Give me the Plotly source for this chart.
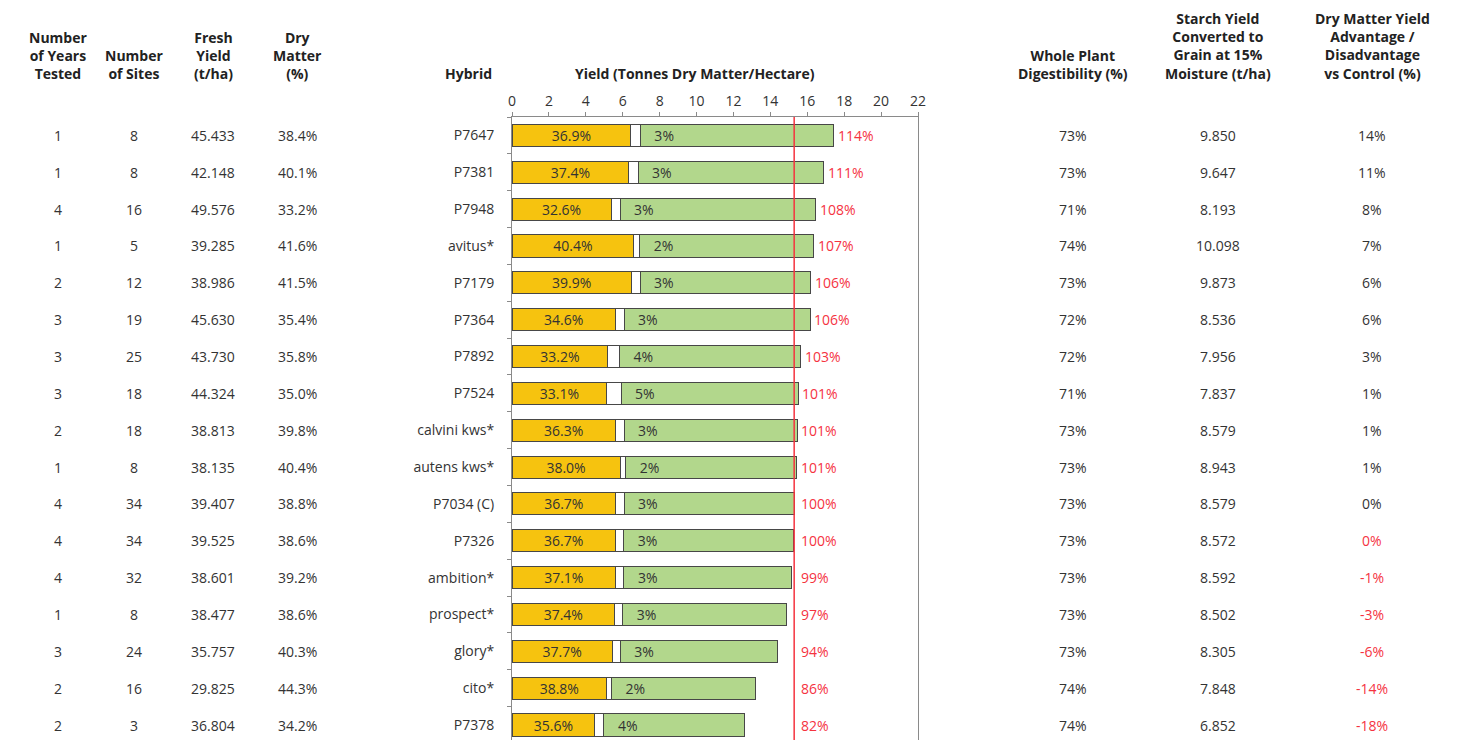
import plotly.graph_objects as go

# ---------------- data ----------------
hybrids = ["P7647", "P7381", "P7948", "avitus*", "P7179", "P7364", "P7892", "P7524",
           "calvini kws*", "autens kws*", "P7034 (C)", "P7326", "ambition*", "prospect*",
           "glory*", "cito*", "P7378"]
years_tested = [1, 1, 4, 1, 2, 3, 3, 3, 2, 1, 4, 4, 4, 1, 3, 2, 2]
num_sites = [8, 8, 16, 5, 12, 19, 25, 18, 18, 8, 34, 34, 32, 8, 24, 16, 3]
fresh_yield = [45.433, 42.148, 49.576, 39.285, 38.986, 45.630, 43.730, 44.324, 38.813,
               38.135, 39.407, 39.525, 38.601, 38.477, 35.757, 29.825, 36.804]
dry_matter_pct = [38.4, 40.1, 33.2, 41.6, 41.5, 35.4, 35.8, 35.0, 39.8, 40.4, 38.8,
                  38.6, 39.2, 38.6, 40.3, 44.3, 34.2]
starch_pct = [36.9, 37.4, 32.6, 40.4, 39.9, 34.6, 33.2, 33.1, 36.3, 38.0, 36.7, 36.7,
              37.1, 37.4, 37.7, 38.8, 35.6]
sugar_pct = [3, 3, 3, 2, 3, 3, 4, 5, 3, 2, 3, 3, 3, 3, 3, 2, 4]
relative_yield = [114, 111, 108, 107, 106, 106, 103, 101, 101, 101, 100, 100, 99, 97, 94, 86, 82]
digestibility = [73, 73, 71, 74, 73, 72, 72, 71, 73, 73, 73, 73, 73, 73, 73, 74, 74]
starch_grain = ["9.850", "9.647", "8.193", "10.098", "9.873", "8.536", "7.956", "7.837",
                "8.579", "8.943", "8.579", "8.572", "8.592", "8.502", "8.305", "7.848", "6.852"]
advantage = ["14%", "11%", "8%", "7%", "6%", "6%", "3%", "1%", "1%", "1%", "0%", "0%",
             "-1%", "-3%", "-6%", "-14%", "-18%"]
below_control = [False] * 11 + [True] * 6
control = "P7034 (C)"

# ---------------- derived ----------------
total_dm = [f * d / 100 for f, d in zip(fresh_yield, dry_matter_pct)]
starch_part = [t * s / 100 for t, s in zip(total_dm, starch_pct)]
sugar_part = [t * s / 100 for t, s in zip(total_dm, sugar_pct)]
rest_part = [t - a - b for t, a, b in zip(total_dm, starch_part, sugar_part)]
control_total = total_dm[hybrids.index(control)]

YELLOW = "#F6C30F"
GREEN = "#B2D78C"
RED = "#F5333F"
EDGE = "#474747"
TXT = "#333333"
FONT = "Open Sans"
FS = 14

OFF = 8                      # page body margin
W, H = 1458 - 2 * OFF, 740 - OFF
L = 512 - OFF                # plot left edge (figure px)
RIGHT = 918 - OFF            # plot right edge
T = 117 - OFF
B = 0
R = W - RIGHT
PW = RIGHT - L
PH = H - T - B
BAND = 36.85                 # px per row
y_bottom = -0.5 + PH / BAND


def px_x(p):                 # viewport px -> paper x
    return (p - OFF - L) / PW


def px_y(p):                 # viewport px -> paper y
    return (H - B - (p - OFF)) / PH


fig = go.Figure()
fig.add_bar(y=hybrids, x=starch_part, orientation="h",
            marker=dict(color=YELLOW, line=dict(color=EDGE, width=1)),
            text=[f"{s:.1f}%" for s in starch_pct], textposition="inside",
            insidetextanchor="middle", textfont=dict(size=FS, color=TXT, family=FONT),
            constraintext="none", hoverinfo="skip")
fig.add_bar(y=hybrids, x=sugar_part, orientation="h",
            marker=dict(color="white", line=dict(color=EDGE, width=1)), hoverinfo="skip")
fig.add_bar(y=hybrids, x=rest_part, orientation="h",
            marker=dict(color=GREEN, line=dict(color=EDGE, width=1)),
            text=[f"\u00a0\u00a0\u00a0{s}%" for s in sugar_pct], textposition="inside",
            insidetextanchor="start", textfont=dict(size=FS, color=TXT, family=FONT),
            constraintext="none", hoverinfo="skip")

fig.add_shape(type="line", x0=control_total, x1=control_total, xref="x",
              y0=0, y1=1, yref="paper", line=dict(color=RED, width=1.5), layer="above")

ann = []
for h, t, r in zip(hybrids, total_dm, relative_yield):
    ann.append(dict(x=max(t, control_total + 0.15), y=h, xref="x", yref="y",
                    text=f"{r}%", showarrow=False, xanchor="left", xshift=2,
                    font=dict(size=FS, color=RED, family=FONT)))

cols = [
    (58, [str(v) for v in years_tested]),
    (134, [str(v) for v in num_sites]),
    (213, [f"{v:.3f}" for v in fresh_yield]),
    (297, [f"{v:.1f}%" for v in dry_matter_pct]),
    (1073, [f"{v}%" for v in digestibility]),
    (1218, starch_grain),
]
for cx, vals in cols:
    for h, v in zip(hybrids, vals):
        ann.append(dict(x=px_x(cx), y=h, xref="paper", yref="y", text=v,
                        showarrow=False, xanchor="center",
                        font=dict(size=FS, color=TXT, family=FONT)))
for h, v, neg in zip(hybrids, advantage, below_control):
    ann.append(dict(x=px_x(1372), y=h, xref="paper", yref="y", text=v,
                    showarrow=False, xanchor="center",
                    font=dict(size=FS, color=RED if neg else TXT, family=FONT)))

headers = [
    (58, "center", "Number<br>of Years<br>Tested"),
    (134, "center", "Number<br>of Sites"),
    (213, "center", "Fresh<br>Yield<br>(t/ha)"),
    (297, "center", "Dry<br>Matter<br>(%)"),
    (494, "right", "Hybrid"),
    (695, "center", "Yield (Tonnes Dry Matter/Hectare)"),
    (1073, "center", "Whole Plant<br>Digestibility (%)"),
    (1218, "center", "Starch Yield<br>Converted to<br>Grain at 15%<br>Moisture (t/ha)"),
    (1372, "center", "Dry Matter Yield<br>Advantage /<br>Disadvantage<br>vs Control (%)"),
]
for cx, anchor, txt in headers:
    ann.append(dict(x=px_x(cx), y=px_y(85), xref="paper", yref="paper",
                    text=f"<b>{txt}</b>", showarrow=False, xanchor=anchor,
                    yanchor="bottom", align=anchor,
                    font=dict(size=FS, color="#222222", family=FONT)))

fig.update_layout(
    width=W, height=H,
    margin=dict(l=L, r=R, t=T, b=B, pad=0),
    barmode="stack", bargap=0.4,
    showlegend=False,
    plot_bgcolor="white", paper_bgcolor="white",
    font=dict(family=FONT, size=FS, color=TXT),
    annotations=ann,
    xaxis=dict(side="top", range=[0, 22], dtick=2, tick0=0, showgrid=False,
               zeroline=False, showline=True, linecolor="#8a8a8a", linewidth=1,
               ticks="outside", ticklen=4, tickcolor="#8a8a8a",
               tickfont=dict(size=FS, color=TXT, family=FONT)),
    yaxis=dict(type="category", categoryorder="array", categoryarray=hybrids,
               range=[y_bottom, -0.5], showgrid=False, zeroline=False,
               showline=True, mirror=True, linecolor="#8a8a8a", linewidth=1,
               ticks="outside", ticklen=4, tickcolor="#8a8a8a", tickson="boundaries",
               ticklabelstandoff=14,
               tickfont=dict(size=FS, color=TXT, family=FONT)),
)

fig.write_html("out.html")
